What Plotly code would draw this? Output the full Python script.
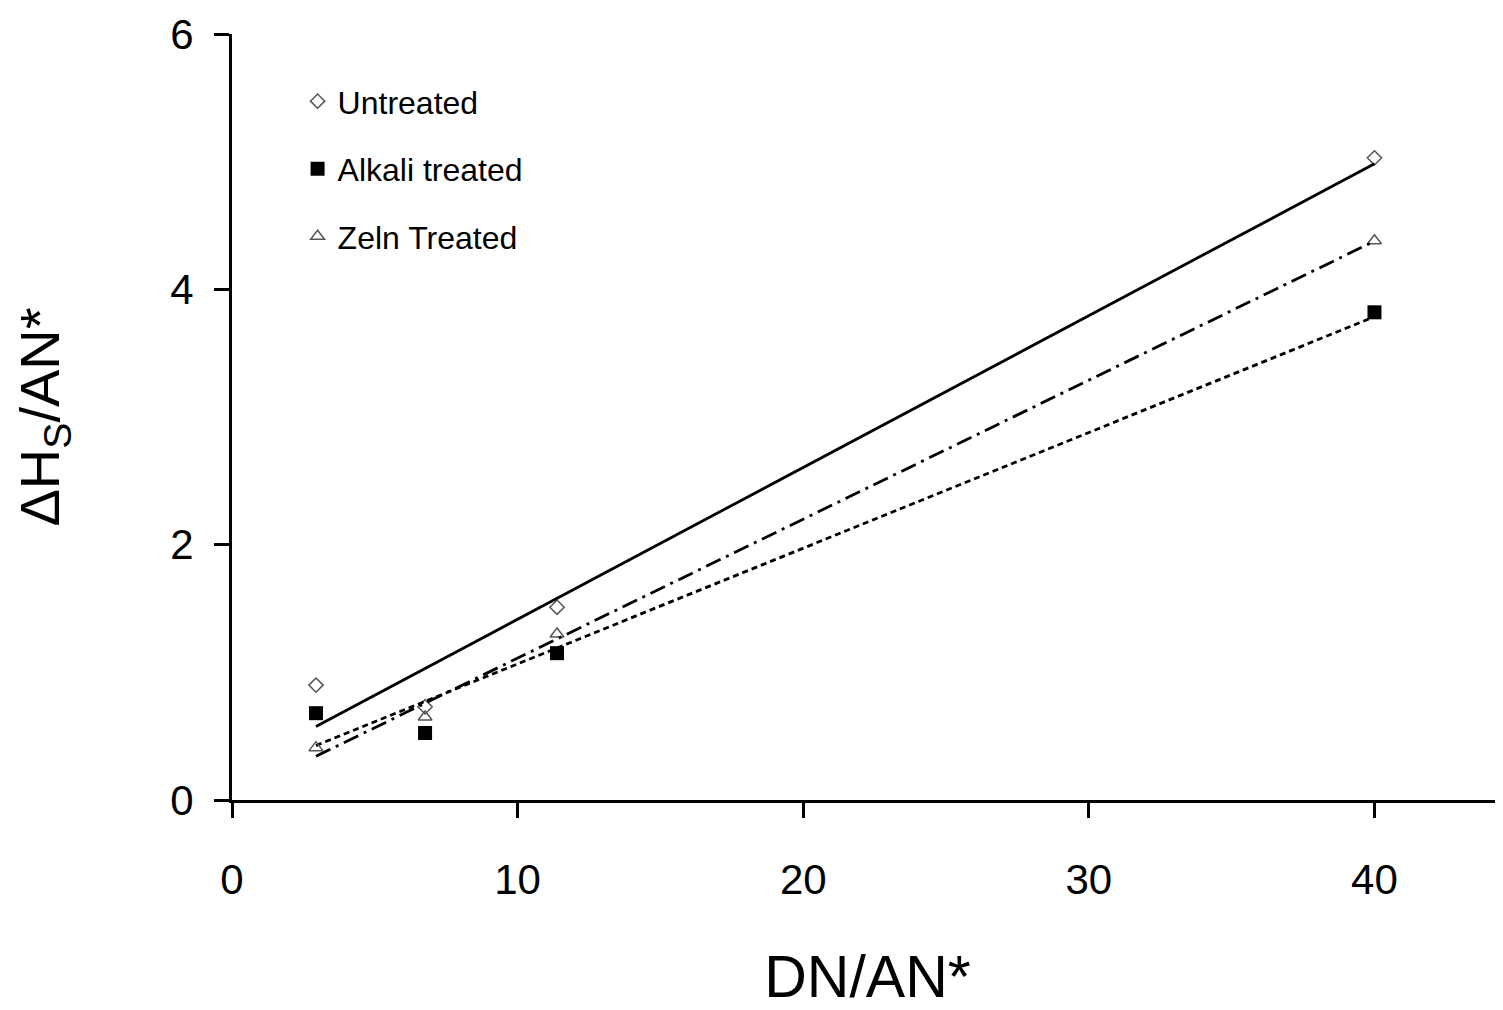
import numpy as np
import plotly.graph_objects as go

x_vals = [2.94, 6.76, 11.38, 40.0]
untreated = [0.90, 0.73, 1.51, 5.03]
alkali = [0.68, 0.525, 1.15, 3.82]
zein = [0.41, 0.65, 1.30, 4.38]

series = [
    ("Untreated", untreated, dict(symbol="diamond-open", size=11, color="#555555", line=dict(width=1.5)), "solid"),
    ("Alkali treated", alkali, dict(symbol="square", size=14, color="black"), "6px,4px"),
    ("Zeln Treated", zein, dict(symbol="triangle-up-open", size=12, color="#555555", line=dict(width=1.5)), "16px,6px,3px,6px"),
]

fig = go.Figure()
for i, (name, ys, marker, dash) in enumerate(series):
    fig.add_trace(go.Scatter(x=x_vals, y=ys, mode="markers", name=name, marker=marker,
                             legendgroup=f"g{i}", showlegend=True))
    m, b = np.polyfit(x_vals, ys, 1)
    xs = [min(x_vals), max(x_vals)]
    fig.add_trace(go.Scatter(x=xs, y=[m * v + b for v in xs], mode="lines",
                             line=dict(color="black", width=2.8, dash=dash),
                             showlegend=False, hoverinfo="skip"))

font = "Liberation Sans, Arial, sans-serif"
fig.update_layout(
    width=1495, height=1002,
    margin=dict(l=224, r=0, t=26, b=210),
    plot_bgcolor="white", paper_bgcolor="white",
    font=dict(family=font, color="black"),
    showlegend=True,
    legend=dict(x=0.0516, y=0.948, xanchor="left", yanchor="top",
                font=dict(size=32, family=font), tracegroupgap=23,
                bgcolor="rgba(0,0,0,0)", itemwidth=30),
    xaxis=dict(range=[0, 44.5], tickvals=[0, 10, 20, 30, 40], showgrid=False, zeroline=False,
               showline=True, linecolor="black", linewidth=3, automargin=False,
               ticks="outside", ticklen=15, tickwidth=3, tickcolor="black",
               tickfont=dict(size=42), ticklabelstandoff=26,
               title=dict(text="DN/AN*", font=dict(size=59), standoff=72)),
    yaxis=dict(range=[0, 6], tickvals=[0, 2, 4, 6], showgrid=False, zeroline=False,
               showline=True, linecolor="black", linewidth=3, automargin=False,
               ticks="outside", ticklen=15, tickwidth=3, tickcolor="black",
               tickfont=dict(size=42), ticklabelstandoff=12,
               title=dict(text="ΔH<sub>S</sub>/AN*", font=dict(size=56), standoff=100)),
)

fig.write_html("out.html")
